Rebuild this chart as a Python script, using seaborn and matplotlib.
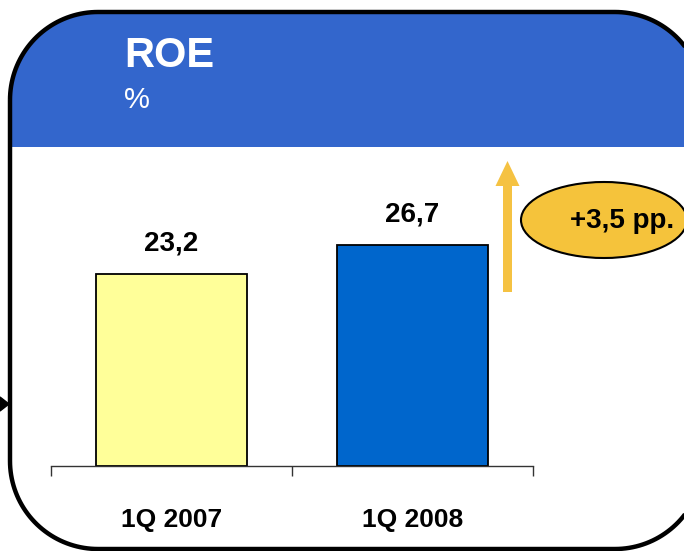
import matplotlib
matplotlib.use("Agg")
import numpy as np
import matplotlib.pyplot as plt
import seaborn as sns
import pandas as pd
from matplotlib.patches import Rectangle, Ellipse, FancyArrow, Polygon

# data
periods = ["1Q 2007", "1Q 2008"]
roe = [23.2, 26.7]
value_labels = ["23,2", "26,7"]
bar_colors = ["#FFFF99", "#0066CC"]
change_label = "+3,5 pp."

df = pd.DataFrame({"period": periods, "roe": roe})

sns.set_theme(style="white")
plt.rcParams["font.family"] = ["Liberation Sans", "DejaVu Sans"]
plt.rcParams["text.color"] = "black"
plt.rcParams["xtick.color"] = "black"

W, H = 684, 551
fig = plt.figure(figsize=(W / 100, H / 100), dpi=100)

# background panel drawn in pixel coordinates
bg = fig.add_axes([0, 0, 1, 1])
bg.set_xlim(0, W)
bg.set_ylim(H, 0)
bg.axis("off")


def rounded_box(x0, y0, x1, y1, r, n=40):
    # corners: top-left, top-right, bottom-right, bottom-left (y grows downward)
    pts = []
    for cx, cy, a0 in [(x0 + r, y0 + r, 180), (x1 - r, y0 + r, 270),
                       (x1 - r, y1 - r, 0), (x0 + r, y1 - r, 90)]:
        t = np.radians(np.linspace(a0, a0 + 90, n))
        pts += list(zip(cx + r * np.cos(t), cy + r * np.sin(t)))
    return pts


box_pts = rounded_box(10, 12, 703, 549, 88)
panel = Polygon(box_pts, closed=True, facecolor="white", edgecolor="none")
bg.add_patch(panel)
header = Rectangle((0, 0), W + 50, 147, facecolor="#3366CC", edgecolor="none")
bg.add_patch(header)
header.set_clip_path(panel)
bg.add_patch(Polygon(box_pts, closed=True, facecolor="none", edgecolor="black", linewidth=3.2))

bg.text(124, 67, "ROE", color="white", fontsize=30, fontweight="bold", va="baseline")
bg.text(124, 108, "%", color="white", fontsize=21, va="baseline")

# growth arrow and bubble
bg.add_patch(FancyArrow(507.5, 292, 0, -131, width=9, head_width=24, head_length=25,
                        length_includes_head=True, color="#F5C242", linewidth=0))
bg.add_patch(Ellipse((604, 220), 166, 76, facecolor="#F5C33B", edgecolor="black", linewidth=1.5))
bg.text(622, 221, change_label, color="black", fontsize=20, fontweight="bold",
        ha="center", va="center")

# small connector triangle on the left
bg.add_patch(Polygon([(0, 397), (9, 404), (0, 411)], closed=True, color="black"))

# bar chart
ax = fig.add_axes([51 / W, 1 - 466 / H, (533 - 51) / W, (466 - 147) / H])
ax.patch.set_alpha(0)
sns.barplot(data=df, x="period", y="roe", hue="period", palette=bar_colors, legend=False,
            width=0.627, edgecolor="black", linewidth=1.3, saturation=1, ax=ax)
ax.set_xlim(-0.5, 1.5)
ax.set_ylim(0, 38.5)
for i, v in enumerate(roe):
    ax.annotate(value_labels[i], (i, v), xytext=(0, 22), textcoords="offset points",
                ha="center", va="center", color="black", fontsize=20, fontweight="bold")

for s in ["top", "left", "right"]:
    ax.spines[s].set_visible(False)
ax.spines["bottom"].set_color("#333333")
ax.spines["bottom"].set_linewidth(1.0)
ax.set_yticks([])
ax.set_xticks([0, 1])
ax.set_xticklabels(periods, fontsize=19, fontweight="bold", color="black")
ax.tick_params(axis="x", which="major", length=0, pad=30)
ax.set_xticks([-0.5, 0.5, 1.5], minor=True)
ax.tick_params(axis="x", which="minor", length=7, width=1.0, color="#333333", direction="out", bottom=True)
ax.set_xlabel("")
ax.set_ylabel("")

fig.savefig("out.png", dpi=100)
